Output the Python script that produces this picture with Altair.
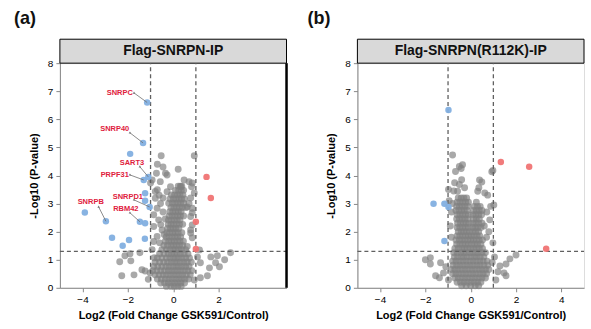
import altair as alt
import pandas as pd

W, H = 227, 225
XTITLE = "Log2 (Fold Change GSK591/Control)"
YTITLE = "-Log10 (P-value)"

# ---------------- Panel (a) data ----------------
a_blue = [(-1.15, 6.6), (-1.33, 5.16), (-1.9, 4.77), (-1.1, 3.95), (-1.3, 3.84),
          (-1.24, 3.37), (-1.24, 3.1), (-1.04, 2.88), (-3.9, 2.68), (-2.97, 2.37),
          (-1.47, 2.35), (-1.24, 2.3), (-2.7, 1.78), (-1.95, 1.7), (-1.25, 1.75),
          (-2.23, 1.5)]
a_red = [(1.47, 3.95), (1.66, 3.2), (1.0, 2.35), (1.0, 1.38)]
a_gray_scatter = [(-0.53, 4.7), (0.93, 4.7), (-0.7, 4.4), (-0.45, 4.3), (-0.27, 4.02),
                  (-0.74, 4.08), (-1.0, 3.73), (-0.57, 3.78), (0.22, 4.22), (-0.27, 3.42),
                  (-0.7, 3.49), (0.7, 3.78), (0.48, 3.84), (0.84, 3.73), (0.93, 3.38),
                  (0.77, 3.2), (0.62, 2.88), (0.84, 2.67), (0.77, 2.06), (0.84, 1.78),
                  (0.81, 3.6), (0.84, 2.83), (0.77, 2.54), (0.84, 2.24), (0.77, 1.95),
                  (0.62, 1.47), (0.7, 3.0), (-0.12, 3.6), (0.34, 3.6),
                  (-0.93, 3.84), (-0.34, 4.08), (-0.79, 3.43), (-0.56, 3.0), (-0.71, 2.83),
                  (-0.86, 2.6), (-0.64, 2.42), (-0.86, 2.18), (-0.49, 2.06), (-0.71, 1.83),
                  (-0.86, 1.65), (-0.93, 1.36), (-0.79, 3.19), (-0.45, 2.7), (-0.55, 2.25),
                  (-0.4, 1.9), (-0.6, 1.6), (-0.45, 3.2), (-0.35, 2.45), (-0.62, 3.3),
                  (1.16, 1.35), (1.66, 1.1), (1.95, 1.14), (2.53, 1.25), (1.87, 0.89),
                  (2.04, 0.75), (1.6, 0.71), (1.51, 0.43), (1.2, 0.89), (1.07, 1.1),
                  (0.93, 0.28), (1.2, 0.36), (2.27, 1.0),
                  (-2.36, 0.93), (-2.13, 1.14), (-1.87, 0.96), (-1.47, 1.25), (-1.91, 1.21),
                  (-2.27, 0.43), (-1.73, 0.46), (-0.84, 1.07), (-1.38, 0.64), (-1.24, 0.6),
                  (-1.02, 0.53), (-1.1, 0.3)]
a_core = {
    3.62: [0.22, 0.31, 0.38],
    3.47: [0.1, 0.24, 0.36, 0.46],
    3.31: [-0.08, 0.06, 0.19, 0.3, 0.43],
    3.16: [-0.14, 0.01, 0.13, 0.26, 0.37, 0.5],
    3.01: [-0.2, -0.04, 0.09, 0.21, 0.33, 0.46],
    2.86: [-0.1, 0.03, 0.16, 0.28, 0.41, 0.56],
    2.71: [-0.15, -0.02, 0.11, 0.23, 0.35],
    2.56: [-0.18, -0.05, 0.08, 0.2, 0.32, 0.46],
    2.41: [-0.21, -0.08, 0.05, 0.18, 0.3],
    2.26: [-0.22, -0.1, 0.02, 0.15, 0.28, 0.42],
    2.11: [-0.25, -0.12, 0.0, 0.12, 0.25],
    1.96: [-0.28, -0.15, -0.02, 0.1, 0.22, 0.38],
    1.81: [-0.31, -0.18, -0.05, 0.08, 0.2, 0.33],
    1.66: [-0.35, -0.2, -0.08, 0.05, 0.18, 0.3, 0.45],
    1.51: [-0.41, -0.25, -0.1, 0.02, 0.15, 0.28, 0.42],
    1.36: [-0.5, -0.3, -0.15, 0.0, 0.12, 0.25, 0.38, 0.55],
    1.21: [-0.6, -0.4, -0.22, -0.08, 0.05, 0.18, 0.32, 0.48, 0.65],
    1.06: [-0.7, -0.5, -0.3, -0.15, 0.0, 0.12, 0.25, 0.4, 0.55, 0.72],
    0.91: [-0.8, -0.6, -0.42, -0.25, -0.1, 0.05, 0.18, 0.32, 0.48, 0.62, 0.8],
    0.76: [-0.86, -0.68, -0.5, -0.32, -0.18, -0.02, 0.12, 0.26, 0.4, 0.55, 0.7],
    0.61: [-0.9, -0.72, -0.55, -0.38, -0.22, -0.08, 0.06, 0.2, 0.35, 0.5, 0.65, 0.82],
    0.46: [-0.8, -0.62, -0.45, -0.3, -0.15, 0.0, 0.14, 0.28, 0.42, 0.58, 0.75],
    0.31: [-0.7, -0.52, -0.35, -0.2, -0.05, 0.1, 0.24, 0.38, 0.52, 0.68],
    0.17: [-0.55, -0.38, -0.22, -0.08, 0.06, 0.2, 0.34, 0.5],
    0.05: [-0.3, -0.1, 0.05, 0.2, 0.35],
}
# labels: name, text x, text y, arrow start x, arrow start y, target x, target y
a_labels = [
    ("SNRPC", -2.36, 6.94, -1.73, 6.94, -1.15, 6.6),
    ("SNRP40", -2.58, 5.66, -1.91, 5.52, -1.33, 5.16),
    ("SART3", -1.82, 4.45, -1.47, 4.31, -1.1, 3.95),
    ("PRPF31", -2.58, 4.02, -1.91, 4.02, -1.3, 3.84),
    ("SNRPD1", -2.0, 3.24, -1.73, 3.13, -1.04, 2.88),
    ("RBM42", -2.09, 2.81, -1.91, 2.67, -1.47, 2.35),
    ("SNRPB", -3.64, 3.06, -3.29, 2.88, -2.97, 2.37),
]

# ---------------- Panel (b) data ----------------
b_blue = [(-0.98, 6.33), (-1.64, 2.99), (-1.16, 2.99), (-0.98, 2.88), (-1.16, 1.67)]
b_red = [(1.33, 4.48), (2.58, 4.31), (3.33, 1.39)]
b_gray_scatter = [(-0.8, 4.73), (-0.36, 4.38), (-0.5, 4.32), (-0.67, 4.14), (-0.42, 4.25),
                  (-0.71, 3.74), (-0.5, 3.68), (-0.27, 3.56), (-0.98, 3.5), (-0.58, 3.44),
                  (-0.75, 3.45), (-0.4, 3.85), (0.39, 3.84), (0.31, 3.44),
                  (0.93, 4.13), (0.98, 4.18), (0.49, 3.77), (0.36, 3.56), (0.62, 3.38),
                  (0.75, 3.3), (1.02, 2.95), (0.71, 2.7), (0.84, 2.42), (0.98, 1.6),
                  (0.6, 2.2), (0.8, 2.0), (0.88, 2.9), (0.7, 1.8), (-0.85, 2.7), (-0.9, 2.2),
                  (-0.85, 1.8), (-0.95, 3.1), (-0.8, 3.0),
                  (2.0, 1.17), (1.73, 1.03), (1.56, 0.85), (1.29, 0.78), (1.56, 0.43),
                  (1.47, 0.53), (1.2, 0.57), (1.11, 0.28), (0.95, 0.9), (1.05, 1.1),
                  (-2.0, 1.0), (-1.78, 1.07), (-1.78, 0.85), (-1.33, 0.89), (-1.55, 0.43),
                  (-1.38, 0.36), (-1.2, 0.53), (-0.98, 0.28), (-1.1, 0.75)]
b_core = {
    3.2: [-0.55, -0.42, -0.3, -0.18],
    3.05: [-0.6, -0.48, -0.35, -0.22, -0.1, 0.25],
    2.9: [-0.62, -0.5, -0.38, -0.25, -0.12, 0.15, 0.3, 0.42],
    2.75: [-0.65, -0.52, -0.4, -0.28, -0.15, 0.12, 0.25, 0.38, 0.5],
    2.6: [-0.6, -0.48, -0.35, -0.22, -0.1, 0.1, 0.22, 0.35, 0.48],
    2.45: [-0.62, -0.5, -0.38, -0.25, -0.12, 0.12, 0.25, 0.38],
    2.3: [-0.58, -0.45, -0.32, -0.2, -0.08, 0.1, 0.22, 0.35, 0.5],
    2.15: [-0.6, -0.48, -0.35, -0.22, -0.1, 0.08, 0.2, 0.32, 0.45],
    2.0: [-0.55, -0.42, -0.3, -0.18, -0.05, 0.1, 0.22, 0.35],
    1.85: [-0.6, -0.48, -0.35, -0.22, -0.1, 0.02, 0.15, 0.28, 0.4],
    1.7: [-0.65, -0.5, -0.38, -0.25, -0.12, 0.0, 0.12, 0.25, 0.38, 0.52],
    1.55: [-0.62, -0.48, -0.35, -0.22, -0.1, 0.05, 0.18, 0.3, 0.45],
    1.4: [-0.7, -0.55, -0.4, -0.28, -0.15, -0.02, 0.12, 0.25, 0.38, 0.52],
    1.25: [-0.75, -0.6, -0.45, -0.32, -0.2, -0.05, 0.08, 0.22, 0.35, 0.5, 0.65],
    1.1: [-0.72, -0.58, -0.42, -0.3, -0.15, 0.0, 0.15, 0.28, 0.42, 0.58],
    0.95: [-0.8, -0.65, -0.5, -0.35, -0.2, -0.05, 0.1, 0.25, 0.4, 0.55, 0.72],
    0.8: [-0.78, -0.62, -0.48, -0.32, -0.18, -0.02, 0.12, 0.28, 0.42, 0.58, 0.75],
    0.65: [-0.85, -0.7, -0.55, -0.4, -0.25, -0.1, 0.05, 0.2, 0.35, 0.5, 0.65, 0.8],
    0.5: [-0.8, -0.65, -0.5, -0.35, -0.2, -0.05, 0.1, 0.25, 0.4, 0.55, 0.7],
    0.35: [-0.7, -0.55, -0.4, -0.25, -0.1, 0.05, 0.2, 0.35, 0.5, 0.65],
    0.2: [-0.6, -0.45, -0.3, -0.15, 0.0, 0.15, 0.3, 0.45],
    0.07: [-0.4, -0.2, 0.0, 0.2, 0.35],
}

GRAY, BLUE, RED = "#808080", "#82afe0", "#f07474"
LABEL_RED = "#e0203c"
DASH = "#606060"


def pts(pairs):
    return pd.DataFrame(pairs, columns=["x", "y"])


def core_pts(rows):
    return pd.DataFrame([(x, y) for y, xs in rows.items() for x in xs], columns=["x", "y"])


def panel(title, tag, tag_dx, gray_df, blue, red, xticks, labels=None, thick_right=False):
    xs = alt.Scale(domain=[-5, 5], nice=False, zero=False)
    ys = alt.Scale(domain=[0, 8], nice=False, zero=False)
    X = alt.X("x:Q", scale=xs, axis=alt.Axis(values=xticks, title=XTITLE, grid=False,
                                              titlePadding=5, labelPadding=3, tickSize=4))
    Y = alt.Y("y:Q", scale=ys, axis=alt.Axis(values=list(range(9)), title=YTITLE, grid=False,
                                              titlePadding=8, labelPadding=3, tickSize=4))
    X2 = alt.X2("x2:Q")
    Y2 = alt.Y2("y2:Q")

    gray_l = alt.Chart(gray_df).mark_circle(size=48, color=GRAY, opacity=0.68).encode(x=X, y=Y)
    blue_l = alt.Chart(pts(blue)).mark_circle(size=42, color=BLUE, opacity=0.95).encode(x=X, y=Y)
    red_l = alt.Chart(pts(red)).mark_circle(size=42, color=RED, opacity=0.95).encode(x=X, y=Y)

    vrule = alt.Chart(pd.DataFrame({"x": [-1, 1], "y": [0, 0], "y2": [8, 8]})).mark_rule(
        color=DASH, strokeDash=[4, 3], strokeWidth=1.3).encode(x=X, y=Y, y2=Y2)
    hrule = alt.Chart(pd.DataFrame({"x": [-5], "x2": [5], "y": [1.3]})).mark_rule(
        color=DASH, strokeDash=[4, 3], strokeWidth=1.3).encode(x=X, x2=X2, y=Y)

    header = alt.Chart(pd.DataFrame({"t": [title]})).mark_rect(
        fill="#d9d9d9", stroke="black", strokeWidth=1).encode(
        x=alt.value(0), x2=alt.value(W), y=alt.value(-24), y2=alt.value(0))
    header_t = alt.Chart(pd.DataFrame({"t": [title]})).mark_text(
        font="Liberation Sans", fontSize=14, fontWeight="bold", color="#111",
        baseline="middle", align="center").encode(
        text="t:N", x=alt.value(W / 2), y=alt.value(-12))
    tag_t = alt.Chart(pd.DataFrame({"t": [tag]})).mark_text(
        font="Liberation Sans", fontSize=18, fontWeight="bold", color="#111",
        baseline="middle", align="left").encode(
        text="t:N", x=alt.value(tag_dx), y=alt.value(-44))

    layers = [header, header_t, tag_t, gray_l, vrule, hrule, blue_l, red_l]

    if labels:
        ldf = pd.DataFrame(labels, columns=["name", "tx", "ty", "x", "y", "x2", "y2"])
        tdf = pd.DataFrame({"name": ldf["name"], "x": ldf["tx"], "y": ldf["ty"]})
        arrows = alt.Chart(ldf).mark_rule(color="#707070", strokeWidth=0.8).encode(
            x=X, y=Y, x2=X2, y2=Y2)
        heads = alt.Chart(ldf).mark_point(shape="triangle", size=6, filled=True,
                                          color="#707070", opacity=1).encode(x=X, y=Y)
        ltxt = alt.Chart(tdf).mark_text(font="Liberation Sans", fontSize=7.5,
                                        fontWeight="bold", color=LABEL_RED,
                                        align="center", baseline="middle").encode(
            x=X, y=Y, text="name:N")
        layers += [arrows, heads, ltxt]

    if thick_right:
        border = alt.Chart(pd.DataFrame({"x": [5], "y": [0], "y2": [8]})).mark_rule(
            color="black", strokeWidth=2.5).encode(x=X, y=Y, y2=Y2)
        layers.append(border)

    return alt.layer(*layers).properties(width=W, height=H)


gray_a = pd.concat([pts(a_gray_scatter), core_pts(a_core)], ignore_index=True)
gray_b = pd.concat([pts(b_gray_scatter), core_pts(b_core)], ignore_index=True)

pa = panel("Flag-SNRPN-IP", "(a)", -46, gray_a, a_blue, a_red, [-4, -2, 0, 2], a_labels, True)
pb = panel("Flag-SNRPN(R112K)-IP", "(b)", -50, gray_b, b_blue, b_red, [-4, -2, 0, 2, 4])

chart = alt.hconcat(pa, pb, spacing=18).properties(
    padding={"left": 13, "top": 9, "right": 5, "bottom": 5}
).configure_view(stroke="black", strokeWidth=1).configure_axis(
    labelFont="DejaVu Sans", labelFontSize=10.5, labelColor="#222",
    titleFont="Liberation Sans", titleFontSize=12, titleFontWeight="bold", titleColor="#111",
    domainColor="#222", tickColor="#222"
).configure(background="white")

chart.save("out.html", embed_options={"renderer": "svg", "actions": False})
